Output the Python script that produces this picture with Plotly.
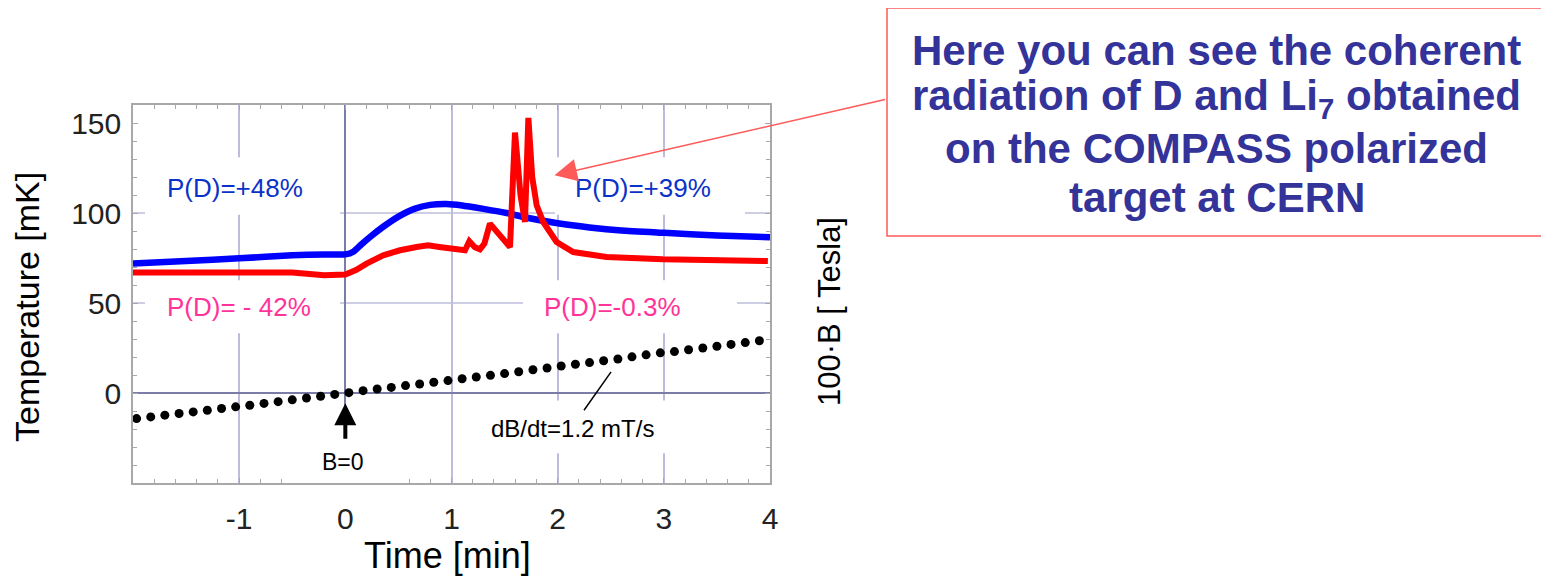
import plotly.graph_objects as go

# ---------------- data ----------------
blue_t = [-2, -1.5, -1, -0.5, -0.2, 0, 0.075, 0.15, 0.25, 0.36, 0.5, 0.65, 0.8,
          0.95, 1.1, 1.3, 1.52, 1.7, 2.0, 2.3, 2.6, 3.0, 3.5, 4.0]
blue_T = [72, 73.3, 74.8, 76.5, 77, 77, 78.5, 82.5, 87.5, 92.5, 98, 102.3, 104.5,
          105, 104.2, 102.3, 100, 97.5, 94.3, 92, 90.3, 89, 87.5, 86.5]

red_t = [-2, -1.5, -1, -0.5, -0.2, 0, 0.1, 0.2, 0.357, 0.515, 0.67, 0.78, 0.885,
         1.0, 1.127, 1.168, 1.22, 1.268, 1.31, 1.362, 1.45, 1.551, 1.598, 1.65, 1.692,
         1.724, 1.76, 1.802, 1.864, 1.93, 1.99, 2.147, 2.3, 2.46, 2.99, 3.5, 3.98]
red_T = [67, 67.2, 67.3, 67, 65.4, 65.8, 68.3, 71.9, 76.5, 79.3, 81.1, 82, 81.1,
         80.2, 79.3, 84.3, 81, 79.8, 83, 94.1, 87.6, 81.1, 144.7, 110, 95,
         152.8, 120, 104.3, 95, 88.5, 83.9, 78.3, 76.6, 75.6, 74.3, 73.8, 73.3]

dot_t = [-1.966, -1.833, -1.700, -1.566, -1.433, -1.300, -1.166, -1.033, -0.900, -0.766,
         -0.633, -0.500, -0.366, -0.233, -0.100, 0.033, 0.167, 0.300, 0.433, 0.567,
         0.700, 0.833, 0.967, 1.100, 1.233, 1.367, 1.500, 1.633, 1.767, 1.900,
         2.033, 2.167, 2.300, 2.433, 2.567, 2.700, 2.833, 2.967, 3.100, 3.233,
         3.367, 3.500, 3.633, 3.767, 3.900]
dot_B = [-14.2, -13.3, -12.3, -11.4, -10.5, -9.6, -8.6, -7.7, -6.8, -5.8,
         -4.8, -3.8, -2.8, -1.8, -0.8, 0.2, 1.3, 2.2, 3.1, 4.1,
         5.0, 6.0, 6.9, 7.9, 8.9, 9.8, 10.8, 11.8, 12.9, 13.9,
         15.0, 16.0, 16.9, 17.9, 18.9, 20.1, 21.2, 22.3, 23.0, 24.0,
         25.0, 26.0, 27.0, 28.0, 29.0]

x_ticks = [-1, 0, 1, 2, 3, 4]
y_ticks = [0, 50, 100, 150]
y_grid = [50, 100]

FONT = "Liberation Sans, Arial, sans-serif"
GRID = "#bcbcdc"
ZERO = "#7c7ca8"
FRAME = "#a8a8a8"

fig = go.Figure()
fig.add_trace(go.Scatter(x=blue_t, y=blue_T, mode="lines",
                         line=dict(color="#0000ff", width=6.5, shape="spline", smoothing=0.5),
                         showlegend=False, hoverinfo="skip"))
fig.add_trace(go.Scatter(x=red_t, y=red_T, mode="lines",
                         line=dict(color="#ff0000", width=6),
                         showlegend=False, hoverinfo="skip"))
fig.add_trace(go.Scatter(x=dot_t, y=dot_B, mode="markers",
                         marker=dict(color="black", size=9),
                         showlegend=False, hoverinfo="skip"))

for g in y_grid:
    fig.add_hline(y=g, line=dict(color=GRID, width=1.5), layer="below")

# white label backgrounds covering the grid
boxes = [(-1.887, -0.05, 99, 131), (1.975, 3.765, 99, 131),
         (-1.887, -0.05, 33.2, 62.6), (1.673, 3.689, 33.2, 62.6),
         (1.108, 3.322, -33.5, -4.1), (-0.455, 0.543, -56, -21.8)]
for x0, x1, y0, y1 in boxes:
    fig.add_shape(type="rect", xref="x", yref="y", x0=x0, x1=x1, y0=y0, y1=y1,
                  fillcolor="white", line=dict(width=0), layer="above")

# leader line for dB/dt label
fig.add_shape(type="line", xref="x", yref="y", x0=2.503, y0=11.7, x1=2.248, y1=-9.6,
              line=dict(color="black", width=1.5), layer="above")

# callout box
fig.add_shape(type="rect", xref="paper", yref="paper", x0=1.1837, x1=2.2198,
              y0=0.6534, y1=1.2566, line=dict(color="#ff5a5a", width=1.5),
              fillcolor="rgba(0,0,0,0)")

ann = []
def txt(text, x, y, size, color, xref="x", yref="y", bold=False, angle=0):
    ann.append(dict(text=(f"<b>{text}</b>" if bold else text), x=x, y=y, xref=xref, yref=yref,
                    showarrow=False, textangle=angle, xanchor="center", yanchor="middle",
                    font=dict(family=FONT, size=size, color=color)))

txt("P(D)=+48%", -1.039, 113.7, 26, "#0a32c8")
txt("P(D)=+39%", 2.804, 113.7, 26, "#0a32c8")
txt("P(D)= - 42%", -1.006, 47.6, 26, "#ff3399")
txt("P(D)=-0.3%", 2.521, 47.6, 26, "#ff3399")
txt("B=0", -0.022, -38.5, 23, "black")
txt("dB/dt=1.2 mT/s", 2.144, -19.6, 24, "black")

txt("Time [min]", 0.4945, -0.1905, 36, "black", "paper", "paper")
txt("Temperature [mK]", -0.1664, 0.4656, 34, "black", "paper", "paper", angle=-90)
txt("100·B [ Tesla]", 1.0942, 0.4524, 31, "black", "paper", "paper", angle=-90)

lines = ["Here you can see the coherent",
         "radiation of D and Li<sub>7</sub> obtained",
         "on the COMPASS polarized",
         "target at CERN"]
ys = [1.1455, 1.0159, 0.8862, 0.7566]
for l, yy in zip(lines, ys):
    txt(l, 1.7017, yy, 42, "#333399", "paper", "paper", bold=True)

# arrows
ann.append(dict(x=1.97, y=121, xref="x", yref="y", ax=332, ay=-76, text="",
                showarrow=True, arrowcolor="#ff5a5a", arrowwidth=1.5, arrowhead=2,
                arrowsize=3, standoff=0))
ann.append(dict(x=0, y=-5.7, xref="x", yref="y", ax=0, ay=37, text="",
                showarrow=True, arrowcolor="black", arrowwidth=4, arrowhead=2,
                arrowsize=1.1, standoff=0))

# page body has an 8px margin: shift the figure so the plot lands where the reference has it
fig.update_layout(
    width=1541, height=568,
    margin=dict(l=125, r=779, t=97, b=93),
    paper_bgcolor="white", plot_bgcolor="white",
    annotations=ann,
    font=dict(family=FONT),
)
fig.update_xaxes(range=[-2, 4], tickvals=x_ticks, ticktext=[str(v) for v in x_ticks],
                 showgrid=True, gridcolor=GRID, gridwidth=1.5,
                 zeroline=True, zerolinecolor=ZERO, zerolinewidth=1.5,
                 showline=True, linecolor=FRAME, linewidth=1.5, mirror="ticks",
                 ticks="inside", ticklen=5, tickcolor=FRAME,
                 minor=dict(dtick=0.2, ticks="inside", ticklen=4, tickcolor=FRAME, showgrid=False),
                 tickfont=dict(family=FONT, size=30, color="#222"), ticklabelstandoff=8)
fig.update_yaxes(range=[-50, 160], tickvals=y_ticks, ticktext=[str(v) for v in y_ticks],
                 showgrid=False,
                 zeroline=True, zerolinecolor=ZERO, zerolinewidth=1.5,
                 showline=True, linecolor=FRAME, linewidth=1.5, mirror="ticks",
                 ticks="inside", ticklen=5, tickcolor=FRAME,
                 minor=dict(dtick=10, ticks="inside", ticklen=4, tickcolor=FRAME, showgrid=False),
                 tickfont=dict(family=FONT, size=30, color="#222"), ticklabelstandoff=4)

fig.write_html("out.html")
